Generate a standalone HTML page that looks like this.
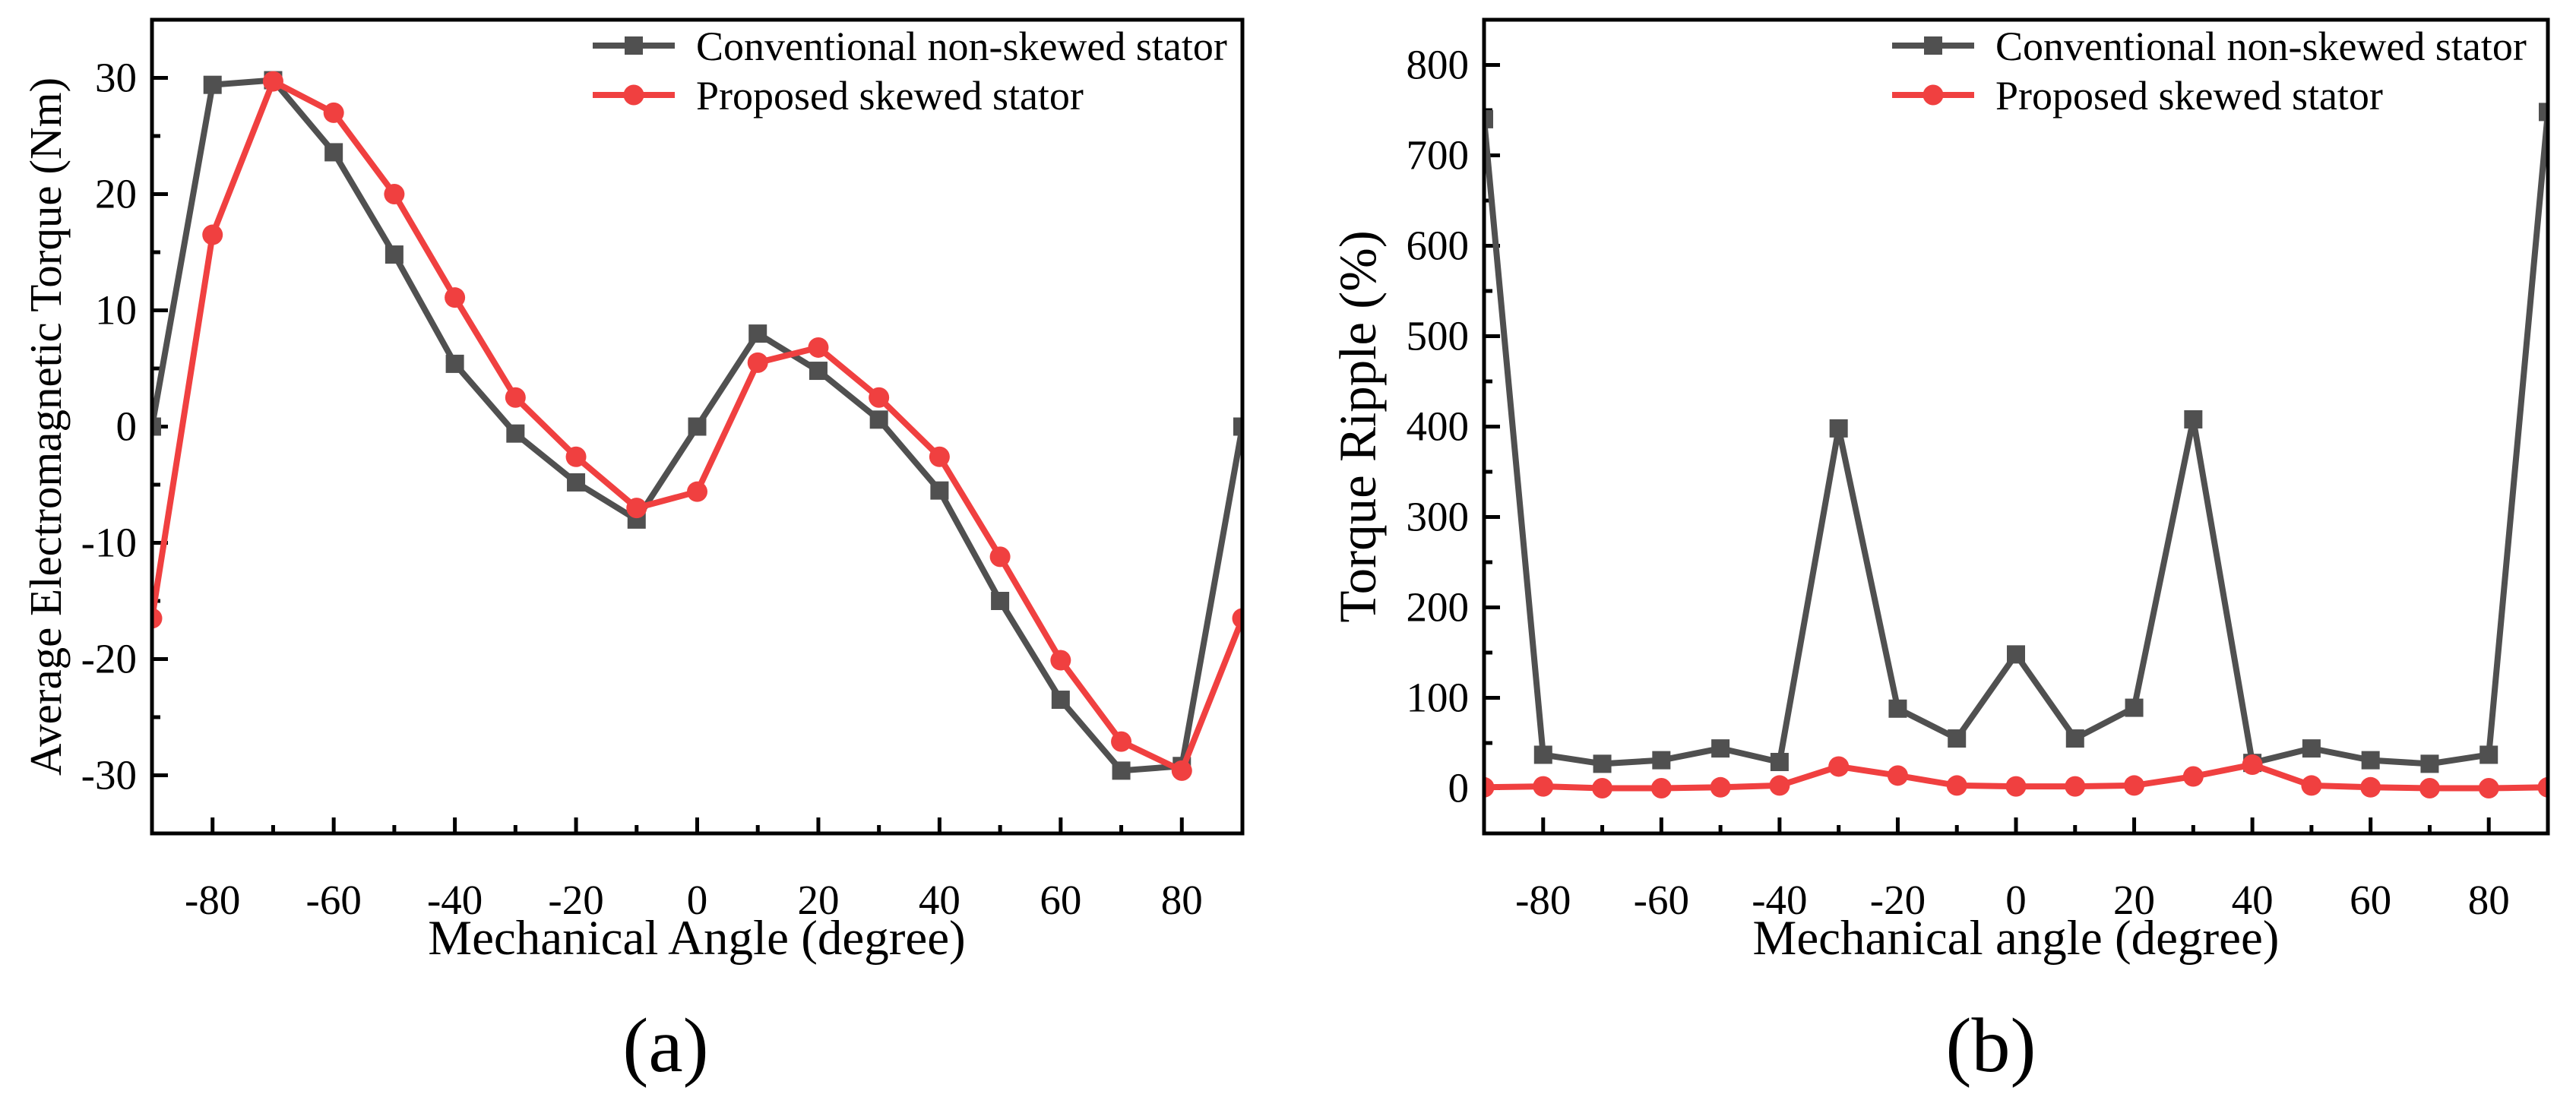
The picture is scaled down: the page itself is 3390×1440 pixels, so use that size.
<!DOCTYPE html>
<html><head><meta charset="utf-8"><style>
html,body{margin:0;padding:0;background:#fff;}
svg{display:block;font-family:"Liberation Serif",serif;}
</style></head><body>
<svg id="fig" width="3390" height="1440" viewBox="0 0 3390 1440"></svg>
<script>
const anglesA = [-90,-80,-70,-60,-50,-40,-30,-20,-10,0,10,20,30,40,50,60,70,80,90];
const torqueConventional = [0,29.4,29.8,23.6,14.8,5.4,-0.6,-4.8,-8,0,8,4.8,0.6,-5.5,-15,-23.5,-29.6,-29.2,0];
const torqueProposed = [-16.5,16.5,29.7,27,20,11.1,2.5,-2.6,-7,-5.6,5.5,6.8,2.5,-2.6,-11.2,-20.1,-27.1,-29.6,-16.5];
const anglesB = [-90,-80,-70,-60,-50,-40,-30,-20,-10,0,10,20,30,40,50,60,70,80,90];
const rippleConventional = [740,37,27,31,44,29,398,88,55,148,55,89,408,28,44,31,27,37,748];
const rippleProposed = [1,2,0,0,1,3,24,14,3,2,2,3,13,26,3,1,0,0,1];
const xTicks = [-80,-60,-40,-20,0,20,40,60,80];
const yTicksA = [-30,-20,-10,0,10,20,30];
const yTicksB = [0,100,200,300,400,500,600,700,800];

const NS="http://www.w3.org/2000/svg";
const svg=document.getElementById('fig');
function mk(tag,attrs,parent){const e=document.createElementNS(NS,tag);for(const k in attrs)e.setAttribute(k,attrs[k]);(parent||svg).appendChild(e);return e;}
const GRAY="#505050", RED="#f04040";

function panel(cfg){
  const g=mk('g',{});
  
  
  const {L,R,T,B,xmin,xmax,ymin,ymax}=cfg;
  const sx=v=>L+(v-xmin)/(xmax-xmin)*(R-L);
  const sy=v=>B-(v-ymin)/(ymax-ymin)*(B-T);
  const clipId='clip'+cfg.id;
  const cp=mk('clipPath',{id:clipId},g);
  mk('rect',{x:L,y:T,width:R-L,height:B-T},cp);
  for(let v=xmin+10; v<xmax; v+=10){
    const major=xTicks.includes(v);
    const t=mk('line',{x1:sx(v),x2:sx(v),y1:B,y2:B-(major?21:11),stroke:'#000','stroke-width':5},g);
    
    
  }
  xTicks.forEach(v=>{
    const t=mk('text',{x:sx(v),y:1203,'font-size':55,'text-anchor':'middle'},g);
    t.textContent=v;
    
    
  });
  for(let v=cfg.yMinorStart; v<ymax; v+=cfg.yMinor){
    const major=cfg.yTicks.includes(v);
    const t=mk('line',{x1:L,x2:L+(major?21:11),y1:sy(v),y2:sy(v),stroke:'#000','stroke-width':5},g);
    
    
  }
  cfg.yTicks.forEach(v=>{
    const t=mk('text',{x:L-20,y:sy(v)+18,'font-size':55,'text-anchor':'end'},g);
    t.textContent=v;
    
    
  });
  const series=[
    {xs:cfg.xs,ys:cfg.y1,color:GRAY,shape:'square',name:'conventional-series'},
    {xs:cfg.xs,ys:cfg.y2,color:RED,shape:'circle',name:'proposed-series'}
  ];
  series.forEach(s=>{
    const sg=mk('g',{'clip-path':'url(#'+clipId+')'},g);
    
    
    const pts=s.xs.map((x,i)=>sx(x)+','+sy(s.ys[i])).join(' ');
    const pl=mk('polyline',{points:pts,fill:'none',stroke:s.color,'stroke-width':8,'stroke-linejoin':'miter'},sg);
    
    
    s.xs.forEach((x,i)=>{
      let m;
      if(s.shape==='square') m=mk('rect',{x:sx(x)-12,y:sy(s.ys[i])-12,width:24,height:24,fill:s.color},sg);
      else m=mk('circle',{cx:sx(x),cy:sy(s.ys[i]),r:13.5,fill:s.color},sg);
      
      
    });
  });
  const fr=mk('rect',{x:L,y:T,width:R-L,height:B-T,fill:'none',stroke:'#000','stroke-width':5},g);
  
  
  const lg=mk('g',{},g);
  
  
  const lx=cfg.legX;
  [[GRAY,'square','Conventional non-skewed stator',60],[RED,'circle','Proposed skewed stator',125]].forEach(e=>{
    const eg=mk('g',{},lg);
    
    
    mk('line',{x1:lx,x2:lx+108,y1:e[3],y2:e[3],stroke:e[0],'stroke-width':8},eg);
    if(e[1]==='square') mk('rect',{x:lx+42,y:e[3]-12,width:24,height:24,fill:e[0]},eg);
    else mk('circle',{cx:lx+54,cy:e[3],r:13.5,fill:e[0]},eg);
    const t=mk('text',{x:lx+136,y:e[3]+19,'font-size':54},eg);
    t.textContent=e[2];
  });
  const xt=mk('text',{x:cfg.xTitleX,y:1256,'font-size':65,'text-anchor':'middle'},g);
  xt.textContent=cfg.xTitle;
  
  
  const yt=mk('text',{x:0,y:0,'font-size':cfg.yTitleSize,'text-anchor':'middle',transform:`translate(${cfg.yTitleX},${(T+B)/2}) rotate(-90)`},g);
  yt.textContent=cfg.yTitle;
  
  
  const cap=mk('text',{x:cfg.capX,y:1410,'font-size':102,'text-anchor':'middle'},g);
  cap.textContent=cfg.cap;
  
  
}

panel({id:'a',name:'panel-a-torque-chart',L:200,R:1635,T:26,B:1097,xmin:-90,xmax:90,ymin:-35,ymax:35,
  xs:anglesA,y1:torqueConventional,y2:torqueProposed,yTicks:yTicksA,yMinor:5,yMinorStart:-30,
  legX:780,xTitle:'Mechanical Angle (degree)',xTitleX:917,yTitle:'Average Electromagnetic Torque (Nm)',yTitleX:80,yTitleSize:59,
  cap:'(a)',capX:876});
panel({id:'b',name:'panel-b-ripple-chart',L:1953,R:3353,T:26,B:1097,xmin:-90,xmax:90,ymin:-50,ymax:850,
  xs:anglesB,y1:rippleConventional,y2:rippleProposed,yTicks:yTicksB,yMinor:50,yMinorStart:0,
  legX:2490,xTitle:'Mechanical angle (degree)',xTitleX:2653,yTitle:'Torque Ripple (%)',yTitleX:1810,yTitleSize:69,
  cap:'(b)',capX:2620});
</script>
</body></html>
